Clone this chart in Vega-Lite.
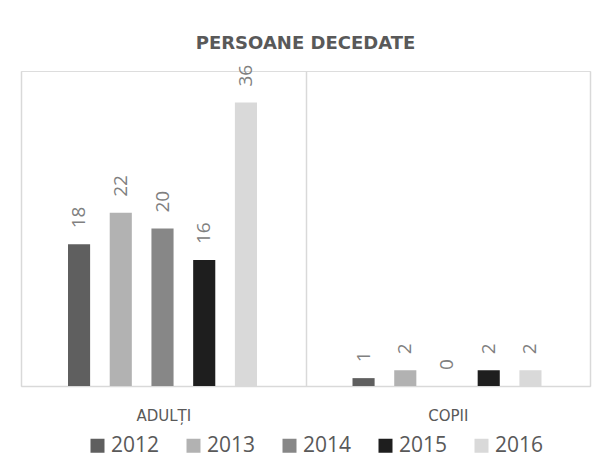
{
  "$schema": "https://vega.github.io/schema/vega-lite/v6.json",
  "width": 569,
  "height": 315,
  "autosize": {"type": "none"},
  "padding": {"left": 21, "top": 71, "right": 8, "bottom": 75},
  "background": "white",
  "title": {
    "text": "PERSOANE DECEDATE",
    "font": "DejaVu Sans",
    "fontSize": 18,
    "fontWeight": "bold",
    "color": "#595959",
    "anchor": "middle",
    "frame": "group",
    "baseline": "alphabetic",
    "offset": -2
  },
  "data": {
    "values": [
      {"group": "ADULȚI", "year": "2012", "value": 18},
      {"group": "ADULȚI", "year": "2013", "value": 22},
      {"group": "ADULȚI", "year": "2014", "value": 20},
      {"group": "ADULȚI", "year": "2015", "value": 16},
      {"group": "ADULȚI", "year": "2016", "value": 36},
      {"group": "COPII", "year": "2012", "value": 1},
      {"group": "COPII", "year": "2013", "value": 2},
      {"group": "COPII", "year": "2014", "value": 0},
      {"group": "COPII", "year": "2015", "value": 2},
      {"group": "COPII", "year": "2016", "value": 2}
    ]
  },
  "encoding": {
    "x": {
      "field": "group",
      "type": "nominal",
      "sort": ["ADULȚI", "COPII"],
      "scale": {"paddingInner": 0, "paddingOuter": 0},
      "axis": {
        "title": null,
        "labelAngle": 0,
        "labelFont": "DejaVu Sans",
        "labelFontSize": 15,
        "labelColor": "#595959",
        "labelPadding": 22,
        "ticks": false,
        "tickBand": "extent",
        "domainColor": "#d9d9d9",
        "domainWidth": 1.5,
        "grid": true,
        "gridColor": "#d9d9d9",
        "gridWidth": 1.5
      }
    },
    "xOffset": {
      "field": "year",
      "type": "nominal",
      "scale": {"range": [47, 236], "paddingInner": 0.47, "paddingOuter": 0}
    },
    "y": {
      "field": "value",
      "type": "quantitative",
      "scale": {"domain": [0, 40], "nice": false},
      "axis": null
    }
  },
  "layer": [
    {
      "mark": {"type": "bar"},
      "encoding": {
        "color": {
          "field": "year",
          "type": "nominal",
          "scale": {
            "domain": ["2012", "2013", "2014", "2015", "2016"],
            "range": ["#5f5f5f", "#b2b2b2", "#878787", "#1e1e1e", "#d9d9d9"]
          },
          "legend": {
            "title": null,
            "orient": "none",
            "direction": "horizontal",
            "legendX": 66,
            "legendY": 364,
            "symbolType": "square",
            "symbolSize": 196,
            "symbolStrokeWidth": 0,
            "labelFont": "Open Sans",
            "labelFontSize": 21,
            "labelColor": "#595959",
            "labelOffset": 3,
            "columnPadding": 23
          }
        }
      }
    },
    {
      "mark": {
        "type": "text",
        "angle": 270,
        "align": "left",
        "baseline": "middle",
        "dx": 16,
        "font": "Open Sans",
        "fontSize": 19,
        "color": "#808080"
      },
      "encoding": {
        "text": {"field": "value", "type": "quantitative"}
      }
    }
  ]
}
